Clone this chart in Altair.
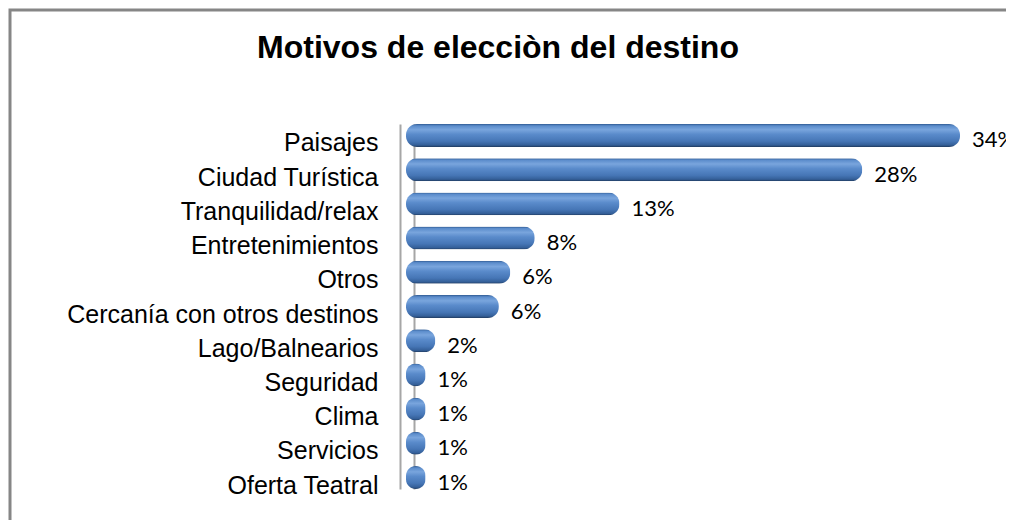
import altair as alt
import pandas as pd

categories = ["Paisajes", "Ciudad Turística", "Tranquilidad/relax", "Entretenimientos",
              "Otros", "Cercanía con otros destinos", "Lago/Balnearios", "Seguridad",
              "Clima", "Servicios", "Oferta Teatral"]
values = [34.0, 28.0, 13.1, 7.9, 6.4, 5.7, 1.8, 1.2, 1.2, 1.2, 1.2]
labels = ["34%", "28%", "13%", "8%", "6%", "6%", "2%", "1%", "1%", "1%", "1%"]

df = pd.DataFrame({"cat": categories, "val": values, "lab": labels})

W, H = 996, 510

x_scale = alt.Scale(domain=[-24.30, 36.82], zero=False, nice=False)
y_scale = alt.Scale(domain=categories, range=[114, 479], paddingInner=0.33, paddingOuter=0)

grad = alt.Gradient(
    gradient="linear",
    stops=[
        alt.GradientStop(color="#2F5A92", offset=0),
        alt.GradientStop(color="#5B8CCB", offset=0.08),
        alt.GradientStop(color="#79A5DD", offset=0.25),
        alt.GradientStop(color="#5A8BCB", offset=0.45),
        alt.GradientStop(color="#4676B6", offset=0.75),
        alt.GradientStop(color="#345F98", offset=0.92),
        alt.GradientStop(color="#203B60", offset=1),
    ],
    x1=0, x2=0, y1=0, y2=1,
)

base = alt.Chart(df)

bars = base.mark_bar(color=grad, cornerRadius=11).encode(
    x=alt.X("val:Q", scale=x_scale, axis=None),
    y=alt.Y("cat:N", scale=y_scale, sort=categories,
            axis=alt.Axis(title=None, orient="left", offset=-390, ticks=False, tickSize=0,
                          labelPadding=22, labelOffset=8, labelFont="Liberation Sans",
                          labelFontSize=25, labelColor="#000000", domainColor="#A6A6A6",
                          domainWidth=2, grid=False, labelLimit=400)),
)

text = base.mark_text(align="left", baseline="middle", dx=12, dy=5, font="Lato",
                      fontSize=22, color="#000000").encode(
    x=alt.X("val:Q", scale=x_scale, axis=None),
    y=alt.Y("cat:N", scale=y_scale, sort=categories,
            axis=alt.Axis(title=None, orient="left", offset=-404, ticks=False, tickSize=0,
                          labels=False, domainColor="#A6A6A6", domainWidth=2,
                          grid=False, zindex=0)),
    text="lab:N",
)

chart = alt.layer(bars, text).resolve_axis(y="independent").properties(
    width=W, height=H,
    autosize=alt.AutoSizeParams(type="none"),
    padding={"top": 2, "left": 2, "right": 0, "bottom": 0},
    title=alt.TitleParams("Motivos de elecciòn del destino", font="Liberation Sans",
                          fontSize=32, fontWeight="bold", color="#000000",
                          anchor="middle", frame="group", offset=-55, dx=-10),
).configure_view(
    stroke="#868686", strokeWidth=3, strokeDash=[W, H + W, H]
)

chart.save("out.html", embed_options={"renderer": "svg", "actions": False})
